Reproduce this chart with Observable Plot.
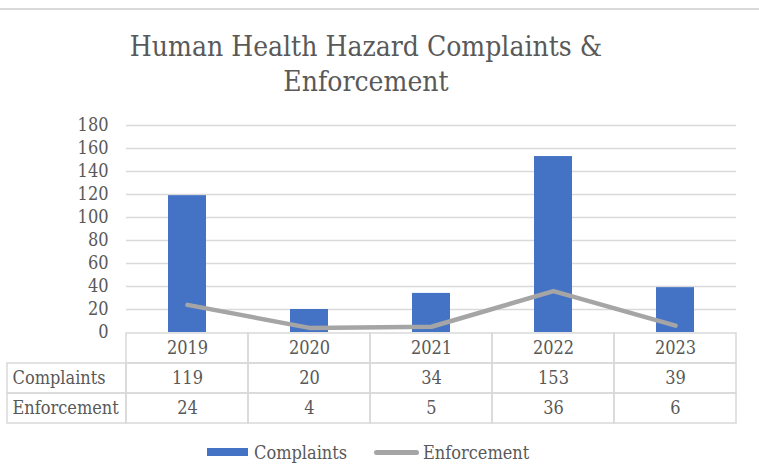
<!DOCTYPE html>
<html><head><meta charset="utf-8">
<script src="https://cdn.jsdelivr.net/npm/d3@7"></script>
<script src="https://cdn.jsdelivr.net/npm/@observablehq/plot@0.6"></script>
<style>
body{margin:0;background:#fff;}
#wrap{position:relative;width:759px;height:475px;overflow:hidden;font-family:"DejaVu Serif Condensed","DejaVu Serif",serif;font-stretch:condensed;color:#595959;}
#topline{position:absolute;left:0;top:8px;width:759px;height:2px;background:#d9d9d9;}
#title{position:absolute;left:0;width:732px;top:29px;text-align:center;font-size:28px;line-height:35px;}
#chart{position:absolute;left:0;top:100px;}
#table{position:absolute;left:0;top:332px;}
.lg{position:absolute;}
.lgtext{position:absolute;font-size:18px;line-height:20px;top:443px;}
</style>
</head><body>
<div id="wrap">
  <div id="topline"></div>
  <div id="title">Human Health Hazard Complaints &amp;<br>Enforcement</div>
  <div id="chart"></div>
  <div id="table"></div>
  <div class="lg" style="left:207px;top:448px;width:41px;height:8px;background:#4472c4"></div>
  <div class="lgtext" style="left:254px">Complaints</div>
  <div class="lg" style="left:374px;top:450px;width:45px;height:4.5px;border-radius:2.5px;background:#a5a5a5"></div>
  <div class="lgtext" style="left:423px">Enforcement</div>
</div>
<script>
const years = ["2019","2020","2021","2022","2023"];
const complaints = [119, 20, 34, 153, 39];
const enforcement = [24, 4, 5, 36, 6];
const yTicks = [0, 20, 40, 60, 80, 100, 120, 140, 160, 180];
const seriesNames = ["Complaints", "Enforcement"];

const FONT = '"DejaVu Serif Condensed","DejaVu Serif",serif';
const data = years.map((y, i) => ({year: y, complaints: complaints[i], enforcement: enforcement[i]}));

const chart = Plot.plot({
  width: 759, height: 252,
  marginLeft: 126, marginRight: 23, marginTop: 25, marginBottom: 20,
  x: {domain: years, paddingInner: 0.685, paddingOuter: 0.3425, axis: null},
  y: {domain: [0, 180], axis: null},
  style: {fontFamily: FONT, fontSize: "18px", color: "#595959", background: "transparent", fontStretch: "condensed"},
  marks: [
    Plot.ruleY(yTicks.filter(d => d > 0), {stroke: "#d9d9d9", strokeWidth: 1.5}),
    Plot.axisY({ticks: yTicks, tickSize: 0, tickPadding: 18, fontSize: 18, fill: "#595959"}),
    Plot.barY(data, {x: "year", y: "complaints", fill: "#4472c4"}),
    Plot.line(data, {x: "year", y: "enforcement", stroke: "#a5a5a5", strokeWidth: 4.5, strokeLinecap: "round", strokeLinejoin: "round"})
  ]
});
document.getElementById("chart").appendChild(chart);

// table
const rows = ["year", ...seriesNames];
const cellsYear = years.map(y => ({col: y, row: "year", text: y}));
const cellsVals = [];
years.forEach((y, i) => {
  cellsVals.push({col: y, row: "Complaints", text: String(complaints[i])});
  cellsVals.push({col: y, row: "Enforcement", text: String(enforcement[i])});
});
const labelCells = seriesNames.map(s => ({col: "label", row: s, text: s}));

const table = Plot.plot({
  width: 759, height: 93,
  marginLeft: 4, marginRight: 23, marginTop: 1, marginBottom: 2,
  x: {domain: ["label", ...years], padding: 0, axis: null},
  y: {domain: rows, padding: 0, axis: null},
  style: {fontFamily: FONT, fontSize: "18px", color: "#595959", background: "transparent", fontStretch: "condensed"},
  marks: [
    Plot.cell([...cellsYear, ...cellsVals], {x: "col", y: "row", fill: "none", stroke: "#d9d9d9", strokeWidth: 1.5}),
    Plot.cell(labelCells, {x: "col", y: "row", fill: "none", stroke: "#d9d9d9", strokeWidth: 1.5, insetLeft: 3}),
    Plot.text([...cellsYear, ...cellsVals], {x: "col", y: "row", text: "text", fill: "#595959", fontSize: 18}),
    Plot.text(labelCells, {x: "col", y: "row", text: "text", fill: "#595959", fontSize: 18, textAnchor: "start", dx: -53})
  ]
});
document.getElementById("table").appendChild(table);
</script>
</body></html>
